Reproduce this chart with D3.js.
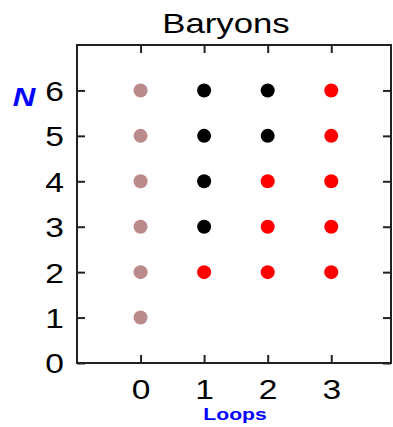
<!DOCTYPE html>
<html>
<head>
<meta charset="utf-8">
<script src="https://cdn.jsdelivr.net/npm/d3@7"></script>
<style>
  html, body { margin: 0; padding: 0; background: #fff; }
  svg { display: block; font-family: "Liberation Sans", Arial, Helvetica, sans-serif; }
</style>
</head>
<body>
<svg id="chart" width="393" height="427"></svg>
<script>
// ---- data ----
const title = "Baryons";
const xLabel = "Loops";
const yLabel = "N";
const xTicks = [0, 1, 2, 3];
const yTicks = [0, 1, 2, 3, 4, 5, 6];
// each point: loops value, N value, kind
const pointLoops = [0, 0, 0, 0, 0, 0, 1, 1, 1, 1, 1, 2, 2, 2, 2, 2, 3, 3, 3, 3, 3];
const pointN     = [1, 2, 3, 4, 5, 6, 2, 3, 4, 5, 6, 2, 3, 4, 5, 6, 2, 3, 4, 5, 6];
const pointKind  = ["tree","tree","tree","tree","tree","tree",
                    "red","black","black","black","black",
                    "red","red","red","black","black",
                    "red","red","red","red","red"];
const kinds = ["tree", "red", "black"];
const kindColors = ["#bb8a8a", "#ff0000", "#000000"];

(function () {
// ---- layout ----
const svg = d3.select("#chart");
const mLeft = 77, mRight = 391, mTop = 45, mBottom = 363;
const x = d3.scaleLinear().domain([-1, 3.94]).range([mLeft, mRight]);
const y = d3.scaleLinear().domain([0, 7]).range([mBottom, mTop]);
const color = d3.scaleOrdinal().domain(kinds).range(kindColors);
const stretch = 1.22;
const frameColor = "#222";
const blue = "#0000ff";

// ticks (inward) on all four sides
const tickLen = 8;
const gB = svg.append("g").attr("transform", `translate(0,${mBottom})`).attr("color", frameColor)
  .call(d3.axisBottom(x).tickValues(xTicks).tickSizeInner(-tickLen).tickSizeOuter(0).tickFormat(d3.format("d")));
const gT = svg.append("g").attr("transform", `translate(0,${mTop})`).attr("color", frameColor)
  .call(d3.axisTop(x).tickValues(xTicks).tickSizeInner(-tickLen).tickSizeOuter(0).tickFormat(""));
const gL = svg.append("g").attr("transform", `translate(${mLeft},0)`).attr("color", frameColor)
  .call(d3.axisLeft(y).tickValues(yTicks).tickSizeInner(-tickLen).tickSizeOuter(0).tickFormat(d3.format("d")));
const gR = svg.append("g").attr("transform", `translate(${mRight},0)`).attr("color", frameColor)
  .call(d3.axisRight(y).tickValues(yTicks).tickSizeInner(-tickLen).tickSizeOuter(0).tickFormat(""));

[gB, gT, gL, gR].forEach(g => {
  g.select(".domain").remove();
  g.selectAll(".tick line").attr("stroke-width", 2);
  g.attr("font-family", null);
});
gB.selectAll(".tick text")
  .attr("y", 0).attr("dy", 0)
  .attr("fill", "#000")
  .attr("font-size", 27.5)
  .attr("transform", `translate(0,36) scale(${stretch},1)`);
gL.selectAll(".tick text")
  .attr("x", 0).attr("dy", "0.36em")
  .attr("fill", "#000")
  .attr("font-size", 27.5)
  .attr("text-anchor", "end")
  .attr("transform", `translate(-13,0) scale(${stretch},1)`);

// frame
svg.append("rect")
  .attr("x", mLeft).attr("y", mTop)
  .attr("width", mRight - mLeft).attr("height", mBottom - mTop)
  .attr("fill", "none").attr("stroke", frameColor).attr("stroke-width", 2);

// points
svg.append("g").selectAll("circle")
  .data(d3.range(pointLoops.length))
  .join("circle")
  .attr("cx", i => x(pointLoops[i]))
  .attr("cy", i => y(pointN[i]))
  .attr("r", 7)
  .attr("fill", i => color(pointKind[i]));

// title
svg.append("text")
  .attr("transform", `translate(226,33) scale(1.22,1)`)
  .attr("text-anchor", "middle")
  .attr("font-size", 28.5)
  .attr("fill", "#000")
  .text(title);

// y label
svg.append("text")
  .attr("transform", `translate(24,106) scale(1.18,1)`)
  .attr("text-anchor", "middle")
  .attr("font-size", 26.5)
  .attr("font-weight", "bold")
  .attr("font-style", "italic")
  .attr("fill", blue)
  .text(yLabel);

// x label
svg.append("text")
  .attr("transform", `translate(235,420) scale(1.28,1)`)
  .attr("text-anchor", "middle")
  .attr("font-size", 16.5)
  .attr("font-weight", "bold")
  .attr("fill", blue)
  .text(xLabel);
})();
</script>
</body>
</html>
